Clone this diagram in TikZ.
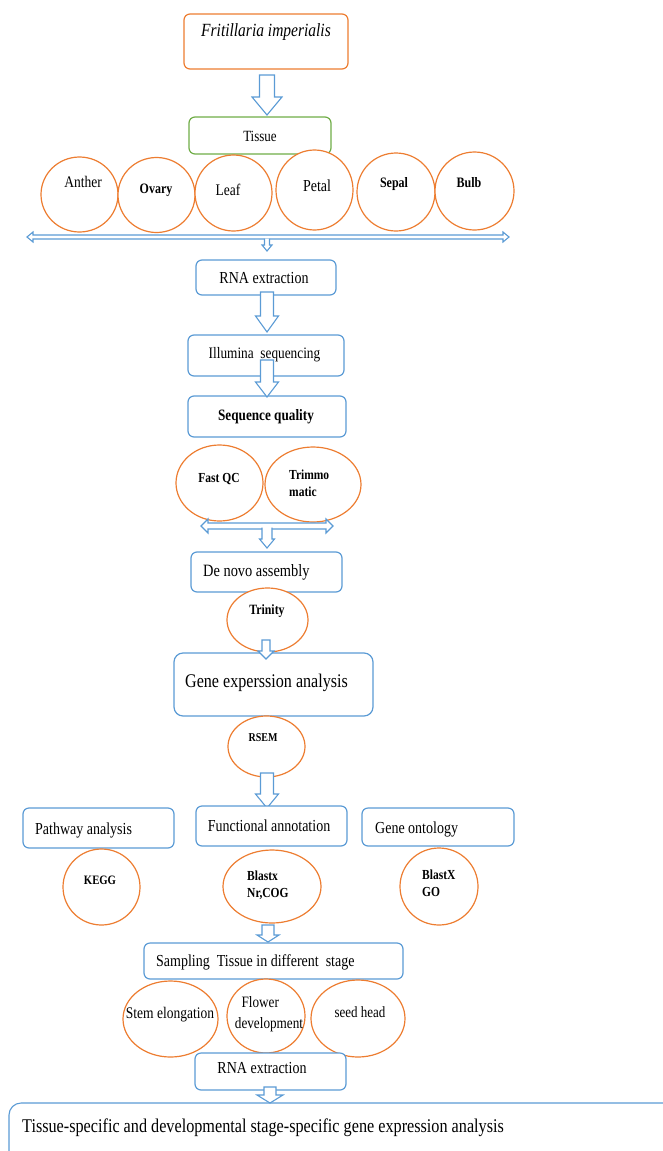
\documentclass[tikz,border=0pt]{standalone}
\usepackage{fontspec}
\setmainfont{Liberation Serif}
\usetikzlibrary{shapes.geometric}
\definecolor{boxblue}{RGB}{91,155,213}
\definecolor{ovalorange}{RGB}{237,125,49}
\definecolor{tissuegreen}{RGB}{112,173,71}
% block arrow pointing down: x, top, head start, tip, half shaft, half head
\newcommand{\blkdown}[6]{\draw[blk] (#1-#5,#2) -- (#1+#5,#2) -- (#1+#5,#3) -- (#1+#6,#3) -- (#1,#4) -- (#1-#6,#3) -- (#1-#5,#3) -- cycle;}
% block arrow pointing both ways: left, right, y, head length, half shaft, half head
\newcommand{\blkboth}[6]{\draw[blk] (#1,#3) -- (#1+#4,#3-#6) -- (#1+#4,#3-#5) -- (#2-#4,#3-#5) -- (#2-#4,#3-#6) -- (#2,#3) -- (#2-#4,#3+#6) -- (#2-#4,#3+#5) -- (#1+#4,#3+#5) -- (#1+#4,#3+#6) -- cycle;}
% branch going down from a two way arrow (top edge left open)
\newcommand{\blkbranch}[6]{\filldraw[blk] (#1-#5,#2) -- (#1-#5,#3) -- (#1-#6,#3) -- (#1,#4) -- (#1+#6,#3) -- (#1+#5,#3) -- (#1+#5,#2);}

\begin{document}
\begin{tikzpicture}[x=1pt,y=-1pt,
    box/.style={draw=boxblue,line width=1.2pt,rounded corners=6pt,inner sep=0pt,fill=white},
    oval/.style={draw=ovalorange,ellipse,line width=1.2pt,inner sep=0pt,fill=white},
    blk/.style={draw=boxblue,fill=white,line width=1.1pt},
    txt/.style={font=\fontsize{14}{16}\selectfont,inner sep=0pt,yscale=1.2},
    btxt/.style={font=\fontsize{11.5}{14}\selectfont\bfseries,inner sep=0pt,align=left,yscale=1.2}]
    \useasboundingbox (0,0) rectangle (663,1151);

    % species and tissues
    \node[box,draw=ovalorange,minimum width=164,minimum height=55] (species) at (266,41.5) {};
    \node[txt,font=\fontsize{15.5}{18}\selectfont\itshape] (species-t) at (266,32) {Fritillaria imperialis};
    \node[box,draw=tissuegreen,minimum width=142,minimum height=37] (tissue) at (260,135.5) {};
    \node[txt,font=\fontsize{13}{15}\selectfont] (tissue-t) at (260,136) {Tissue};
    \blkdown{267}{75}{97}{115}{7.5}{15}

    \foreach \n/\x/\y/\w/\h in {anther/79.5/194.5/77/75, ovary/156.5/195/77/75, leaf/233.5/193/77/76,
        petal/314.5/190/77/80, sepal/396/192/78/78, bulb/474.5/191/79/78}
        \node[oval,minimum width=\w,minimum height=\h] (\n) at (\x,\y) {};
    \node[txt,font=\fontsize{13.5}{16}\selectfont] (anther-t) at (83,182) {Anther};
    \node[btxt,font=\fontsize{12}{14}\selectfont\bfseries] (ovary-t) at (156,190) {Ovary};
    \node[txt,font=\fontsize{13.5}{16}\selectfont] (leaf-t) at (228,190) {Leaf};
    \node[txt] (petal-t) at (317,186) {Petal};
    \node[btxt,font=\fontsize{12}{14}\selectfont\bfseries] (sepal-t) at (394,184) {Sepal};
    \node[btxt,font=\fontsize{12}{14}\selectfont\bfseries] (bulb-t) at (469,183) {Bulb};

    \blkboth{27}{509}{237}{6}{2}{5}
    \blkbranch{267}{238.5}{245}{251}{2.5}{5}

    % sequencing
    \node[box,minimum width=140,minimum height=35] (rnaa) at (266,277.5) {};
    \node[txt] (rnaa-t) at (264,278) {RNA extraction};
    \node[box,minimum width=156,minimum height=41] (illumina) at (266,355.5) {};
    \node[txt,font=\fontsize{13.3}{16}\selectfont] (illumina-t) at (264.5,355) {Illumina\ \ sequencing};
    \node[box,minimum width=158,minimum height=41] (quality) at (267,416.5) {};
    \node[btxt,font=\fontsize{13.2}{16}\selectfont\bfseries] (quality-t) at (266,417) {Sequence quality};
    \blkdown{267}{292}{316}{332}{6.5}{11.5}
    \blkdown{267}{360}{382}{397}{6.5}{11.5}

    \node[oval,minimum width=87,minimum height=76] (fastqc) at (219.5,483) {};
    \node[btxt] (fastqc-t) at (219,479) {Fast QC};
    \node[oval,minimum width=96,minimum height=75] (trimmo) at (313,484.5) {};
    \node[btxt,anchor=west] (trimmo-t) at (289,483) {Trimmo\\matic};
    \blkboth{201}{333}{526}{7}{3}{7}
    \blkbranch{267}{527.5}{539}{548}{5}{7.5}

    % assembly and expression
    \node[box,minimum width=151,minimum height=40] (denovo) at (266.5,572) {};
    \node[txt,font=\fontsize{14.4}{16}\selectfont,anchor=west] (denovo-t) at (203,572) {De novo assembly};
    \node[oval,minimum width=81,minimum height=64] (trinity) at (267.5,620) {};
    \node[btxt,font=\fontsize{11.8}{14}\selectfont\bfseries] (trinity-t) at (267,611) {Trinity};
    \node[box,minimum width=199,minimum height=63,rounded corners=9pt] (gene) at (273.5,684.5) {};
    \node[txt,font=\fontsize{16.1}{19}\selectfont] (gene-t) at (266.5,683) {Gene experssion analysis};
    \blkdown{266}{640}{651}{659}{4}{8}
    \node[oval,minimum width=77,minimum height=61] (rsem) at (266.5,746.5) {};
    \node[btxt,font=\fontsize{10}{12}\selectfont\bfseries] (rsem-t) at (263,738) {RSEM};
    \blkdown{267}{773}{794}{808}{6.5}{11.5}

    % annotation
    \node[box,minimum width=151,minimum height=40] (pathway) at (98.5,828) {};
    \node[txt,anchor=west] (pathway-t) at (35,830) {Pathway analysis};
    \node[box,minimum width=151,minimum height=40] (func) at (271.5,826) {};
    \node[txt] (func-t) at (269,826) {Functional annotation};
    \node[box,minimum width=152,minimum height=38] (onto) at (438,827) {};
    \node[txt,anchor=west] (onto-t) at (375,829) {Gene ontology};
    \node[oval,minimum width=77,minimum height=76] (kegg) at (101.5,887) {};
    \node[btxt,font=\fontsize{10.7}{13}\selectfont\bfseries] (kegg-t) at (100,880) {KEGG};
    \node[oval,minimum width=98,minimum height=73] (blastx) at (272,886.5) {};
    \node[btxt,anchor=west] (blastx-t) at (247,885.5) {Blastx\\Nr,COG};
    \node[oval,minimum width=78,minimum height=77] (blastgo) at (439,886.5) {};
    \node[btxt,anchor=west] (blastgo-t) at (422,883) {BlastX\\GO};
    \blkdown{268}{925}{935}{942}{6}{11}

    % developmental stages
    \node[box,minimum width=259,minimum height=36] (sampling) at (273.5,961) {};
    \node[txt,anchor=west] (sampling-t) at (156,962) {Sampling\ \ Tissue in different\ \ stage};
    \node[oval,minimum width=95,minimum height=76] (stem) at (170.5,1019) {};
    \node[txt,font=\fontsize{13.5}{16}\selectfont] (stem-t) at (170,1015) {Stem elongation};
    \node[oval,minimum width=78,minimum height=74] (flower) at (266,1016) {};
    \node[txt,font=\fontsize{13.2}{17}\selectfont,align=left] (flower-t) at (269,1014) {\ \ Flower\\development};
    \node[oval,minimum width=94,minimum height=77] (seed) at (358,1018.5) {};
    \node[txt,font=\fontsize{13}{16}\selectfont] (seed-t) at (360,1012) {seed head};
    \node[box,minimum width=151,minimum height=37] (rnab) at (270.5,1071.5) {};
    \node[txt] (rnab-t) at (262,1068) {RNA extraction};

    \draw[blk,rounded corners=12pt] (9,1103) rectangle (700,1200);
    \node[txt,font=\fontsize{16.2}{19}\selectfont,anchor=west] (final-t) at (22,1128) {Tissue-specific and developmental stage-specific gene expression analysis};
    \blkdown{270}{1087}{1095}{1103}{6}{13}
\end{tikzpicture}
\end{document}
